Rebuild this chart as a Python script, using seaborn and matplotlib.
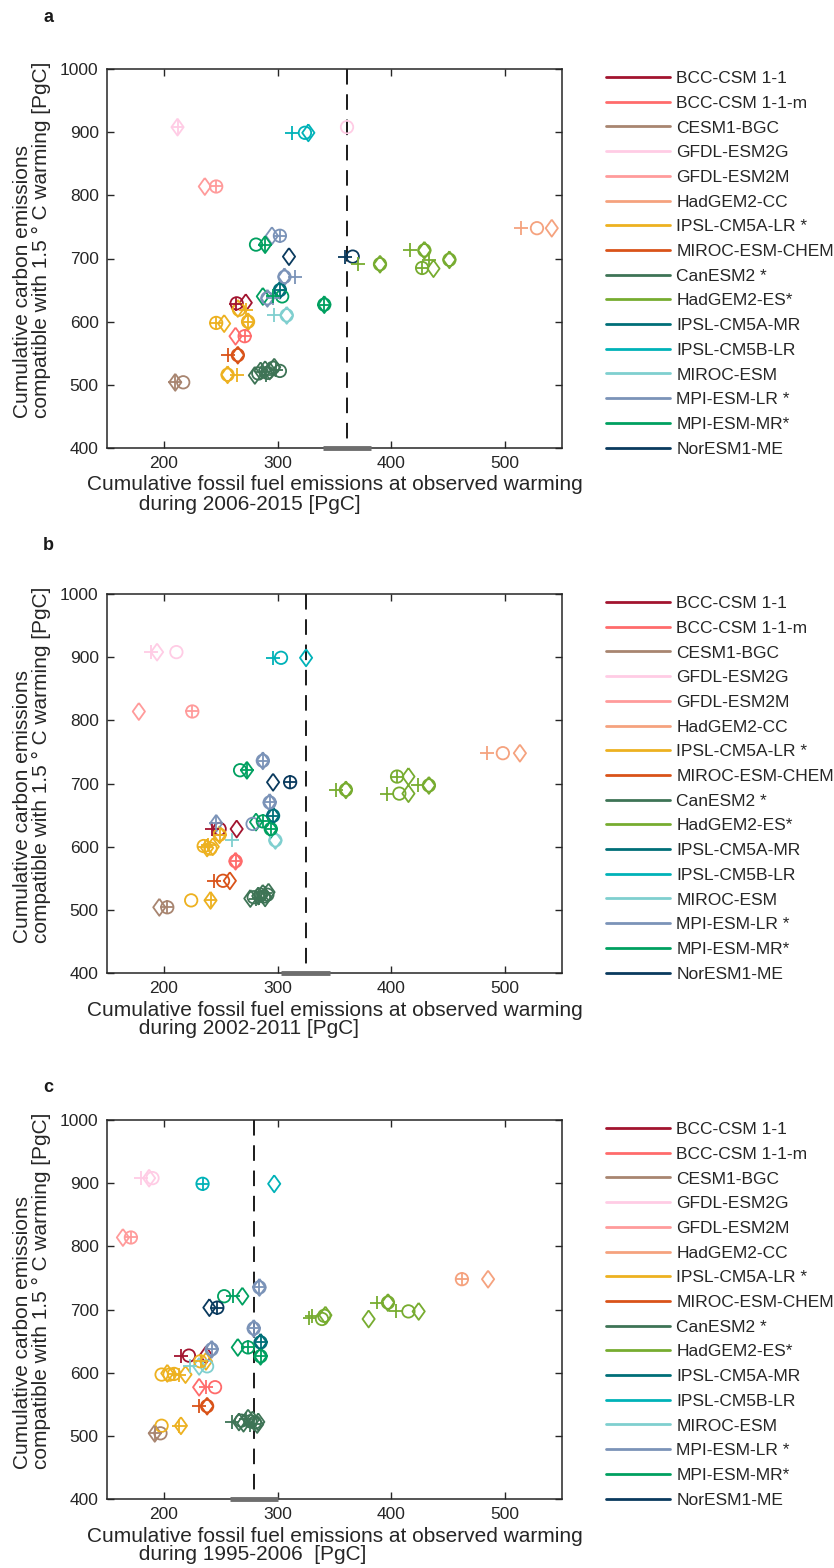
import numpy as np
import pandas as pd
import seaborn as sns
import matplotlib.pyplot as plt
from matplotlib.lines import Line2D

models = ["BCC-CSM 1-1", "BCC-CSM 1-1-m", "CESM1-BGC", "GFDL-ESM2G", "GFDL-ESM2M",
          "HadGEM2-CC", "IPSL-CM5A-LR *", "MIROC-ESM-CHEM", "CanESM2 *", "HadGEM2-ES*",
          "IPSL-CM5A-MR", "IPSL-CM5B-LR", "MIROC-ESM", "MPI-ESM-LR *", "MPI-ESM-MR*",
          "NorESM1-ME"]
colors = ["#A2142F", "#FF6B6B", "#A88570", "#FFCCE5", "#FF9B9B",
          "#F5A27E", "#EDB120", "#D95319", "#3E7456", "#77AC30",
          "#006F78", "#00B2B8", "#7FCFCF", "#7B93B8", "#00A060",
          "#0A3A5E"]

# observation period, dashed observed value and grey range on the x axis
periods = ["2006-2015 [PgC]", "2002-2011 [PgC]", "1995-2006  [PgC]"]
obs_x = [361, 325, 279]
obs_range = [(340, 382), (303, 346), (258, 300)]

# (model index, marker, cumulative FF emissions, compatible emissions)
pts_a = [
    (0, "+", 263, 628), (0, "o", 264, 629), (0, "d", 272, 630),
    (1, "d", 263, 577), (1, "+", 271, 577), (1, "o", 271, 577),
    (2, "+", 210, 504), (2, "d", 210, 504), (2, "o", 217, 504),
    (3, "+", 212, 908), (3, "d", 212, 908), (3, "o", 361, 908),
    (4, "d", 236, 814), (4, "+", 246, 814), (4, "o", 246, 814),
    (5, "+", 514, 748), (5, "o", 528, 748), (5, "d", 541, 748),
    (6, "+", 246, 598), (6, "o", 246, 598), (6, "d", 253, 597),
    (6, "d", 265, 621), (6, "o", 266, 619), (6, "+", 272, 619),
    (6, "+", 274, 600), (6, "o", 274, 600), (6, "d", 274, 600),
    (6, "d", 256, 516), (6, "o", 256, 516), (6, "+", 264, 516),
    (7, "+", 256, 547), (7, "o", 265, 547), (7, "d", 265, 547),
    (8, "d", 280, 515), (8, "o", 283, 518), (8, "+", 286, 520),
    (8, "d", 285, 522), (8, "d", 289, 524), (8, "o", 291, 519),
    (8, "+", 290, 516), (8, "d", 293, 522), (8, "o", 296, 527),
    (8, "d", 297, 528), (8, "+", 299, 524), (8, "o", 302, 522),
    (9, "+", 371, 691), (9, "d", 390, 691), (9, "o", 390, 691),
    (9, "+", 416, 713), (9, "d", 429, 713), (9, "o", 429, 713),
    (9, "+", 427, 685), (9, "o", 427, 685), (9, "d", 437, 684),
    (9, "+", 433, 698), (9, "d", 451, 698), (9, "o", 451, 698),
    (10, "+", 302, 650), (10, "o", 302, 650), (10, "d", 302, 650),
    (11, "+", 313, 899), (11, "o", 324, 899), (11, "d", 327, 899),
    (12, "+", 297, 610), (12, "o", 308, 610), (12, "d", 308, 610),
    (13, "d", 295, 736), (13, "+", 302, 736), (13, "o", 302, 736),
    (13, "d", 306, 671), (13, "o", 306, 671), (13, "+", 315, 671),
    (13, "d", 291, 637), (13, "o", 291, 637), (13, "+", 296, 638),
    (14, "o", 281, 722), (14, "+", 289, 722), (14, "d", 289, 722),
    (14, "d", 287, 640), (14, "+", 296, 640), (14, "o", 304, 640),
    (14, "+", 341, 627), (14, "o", 341, 627), (14, "d", 341, 627),
    (15, "d", 310, 703), (15, "+", 359, 703), (15, "o", 366, 703),
]

pts_b = [
    (0, "+", 242, 628), (0, "o", 249, 628), (0, "d", 264, 628),
    (1, "+", 263, 577), (1, "o", 263, 577), (1, "d", 263, 577),
    (2, "d", 196, 504), (2, "+", 203, 504), (2, "o", 203, 504),
    (3, "+", 189, 908), (3, "d", 194, 908), (3, "o", 211, 908),
    (4, "d", 178, 814), (4, "+", 225, 814), (4, "o", 225, 814),
    (5, "+", 484, 748), (5, "o", 498, 748), (5, "d", 513, 748),
    (6, "+", 249, 619), (6, "o", 249, 619), (6, "d", 249, 619),
    (6, "o", 235, 601), (6, "+", 236, 600), (6, "d", 238, 598),
    (6, "o", 241, 597), (6, "d", 243, 600), (6, "+", 239, 603),
    (6, "o", 224, 515), (6, "+", 241, 515), (6, "d", 241, 515),
    (7, "+", 244, 546), (7, "o", 252, 546), (7, "d", 258, 546),
    (8, "d", 276, 518), (8, "o", 279, 520), (8, "+", 281, 517),
    (8, "d", 283, 522), (8, "o", 285, 524), (8, "d", 287, 526),
    (8, "+", 289, 527), (8, "o", 291, 524), (8, "d", 289, 519),
    (8, "+", 284, 519), (8, "o", 288, 521), (8, "d", 292, 528),
    (9, "+", 351, 690), (9, "d", 360, 690), (9, "o", 360, 690),
    (9, "+", 405, 711), (9, "o", 405, 711), (9, "d", 415, 711),
    (9, "+", 396, 684), (9, "o", 407, 684), (9, "d", 415, 684),
    (9, "+", 423, 697), (9, "d", 433, 697), (9, "o", 433, 697),
    (10, "+", 296, 649), (10, "o", 296, 649), (10, "d", 296, 649),
    (11, "+", 296, 899), (11, "o", 303, 899), (11, "d", 325, 899),
    (12, "+", 260, 610), (12, "o", 298, 610), (12, "d", 298, 610),
    (13, "+", 287, 736), (13, "o", 287, 736), (13, "d", 287, 736),
    (13, "+", 293, 670), (13, "o", 293, 670), (13, "d", 293, 670),
    (13, "d", 246, 637), (13, "+", 246, 637), (13, "o", 278, 636),
    (14, "o", 267, 721), (14, "+", 273, 721), (14, "d", 273, 721),
    (14, "d", 281, 639), (14, "+", 287, 640), (14, "o", 287, 640),
    (14, "+", 294, 628), (14, "o", 294, 628), (14, "d", 294, 628),
    (15, "d", 296, 702), (15, "+", 311, 702), (15, "o", 311, 702),
]

pts_c = [
    (0, "+", 215, 627), (0, "o", 222, 627), (0, "d", 237, 628),
    (1, "d", 231, 577), (1, "+", 237, 577), (1, "o", 245, 577),
    (2, "+", 192, 504), (2, "d", 192, 504), (2, "o", 197, 504),
    (3, "+", 180, 908), (3, "d", 187, 908), (3, "o", 190, 908),
    (4, "d", 164, 814), (4, "+", 171, 814), (4, "o", 171, 814),
    (5, "+", 462, 748), (5, "o", 462, 748), (5, "d", 485, 748),
    (6, "o", 232, 618), (6, "+", 233, 619), (6, "d", 237, 618),
    (6, "o", 198, 597), (6, "d", 203, 599), (6, "o", 205, 597),
    (6, "+", 209, 598), (6, "o", 209, 598), (6, "+", 213, 597),
    (6, "d", 219, 597),
    (6, "o", 198, 516), (6, "+", 213, 516), (6, "d", 215, 516),
    (7, "+", 231, 547), (7, "o", 238, 547), (7, "d", 238, 547),
    (8, "+", 260, 522), (8, "d", 266, 522), (8, "o", 268, 524),
    (8, "d", 270, 520), (8, "+", 272, 526), (8, "d", 274, 528),
    (8, "o", 276, 523), (8, "d", 278, 525), (8, "+", 279, 519),
    (8, "o", 280, 521), (8, "d", 282, 518), (8, "+", 276, 517),
    (8, "d", 283, 522),
    (9, "+", 328, 686), (9, "+", 330, 690), (9, "o", 339, 685),
    (9, "o", 341, 690), (9, "d", 342, 691),
    (9, "+", 387, 711), (9, "d", 397, 711), (9, "o", 397, 711),
    (9, "d", 380, 685),
    (9, "+", 404, 697), (9, "o", 415, 697), (9, "d", 424, 697),
    (10, "+", 285, 648), (10, "o", 285, 648), (10, "d", 285, 648),
    (11, "+", 234, 899), (11, "o", 234, 899), (11, "d", 297, 899),
    (12, "+", 223, 610), (12, "d", 231, 610), (12, "o", 238, 610),
    (13, "+", 284, 735), (13, "o", 284, 735), (13, "d", 284, 735),
    (13, "+", 279, 670), (13, "o", 279, 670), (13, "d", 279, 670),
    (13, "+", 242, 637), (13, "o", 242, 637), (13, "d", 242, 637),
    (14, "o", 253, 721), (14, "+", 261, 721), (14, "d", 269, 721),
    (14, "d", 265, 640), (14, "+", 274, 640), (14, "o", 274, 640),
    (14, "+", 285, 626), (14, "o", 285, 626), (14, "d", 285, 626),
    (15, "d", 240, 703), (15, "+", 247, 703), (15, "o", 247, 703),
]

sns.set_theme(style="ticks")
plt.rcParams["font.family"] = ["Liberation Sans", "DejaVu Sans"]
ink = "#262626"

pal = dict(zip(models, colors))
diamond = np.array([(0, 1), (0.72, 0), (0, -1), (-0.72, 0), (0, 1)])
marker_style = {"d": (diamond, 150), "o": ("o", 80), "+": ("+", 100)}

W, H = 834, 1568
fig = plt.figure(figsize=(W / 100, H / 100), dpi=100)
tops = [69, 594, 1120]
letter_y = [18, 545, 1087]

for i, pts in enumerate([pts_a, pts_b, pts_c]):
    top = tops[i]
    ax = fig.add_axes([107 / W, 1 - (top + 379) / H, 455 / W, 379 / H])

    df = pd.DataFrame(pts, columns=["m", "kind", "x", "y"])
    df["model"] = [models[k] for k in df["m"]]
    for kind in ["d", "o", "+"]:
        sub = df[df["kind"] == kind]
        mk, s = marker_style[kind]
        sns.scatterplot(data=sub, x="x", y="y", hue="model", palette=pal,
                        marker=mk, s=s, linewidth=1.3, legend=False, ax=ax, zorder=3)
        coll = ax.collections[-1]
        cols = coll.get_facecolors()
        coll.set_edgecolors(cols)
        if kind != "+":
            coll.set_facecolors("none")

    # dashed observed value, drawn from the top so a dash meets the upper spine
    ax.plot([obs_x[i], obs_x[i]], [1000, 400], color="k", lw=1.4, dashes=(8, 5), zorder=2)
    ax.plot(obs_range[i], [400, 400], color="#6e6e6e", lw=3.5,
            solid_capstyle="butt", clip_on=False, zorder=6)

    ax.set_xlim(150, 550)
    ax.set_ylim(400, 1000)
    ax.set_xticks([200, 300, 400, 500])
    ax.set_yticks(range(400, 1001, 100))
    ax.tick_params(direction="in", top=True, right=True, length=5, width=1,
                   labelsize=12.5, labelcolor=ink, color=ink, pad=6)
    for sp in ax.spines.values():
        sp.set_linewidth(1.1)
        sp.set_color(ink)

    ax.set_xlabel("Cumulative fossil fuel emissions at observed warming\n"
                  + " " * 9 + "during " + periods[i],
                  fontsize=15, color=ink, multialignment="left",
                  linespacing=1.0, labelpad=3)
    ax.set_ylabel("Cumulative carbon emissions\ncompatible with 1.5 ° C warming [PgC]",
                  fontsize=15, color=ink, multialignment="left", linespacing=1.0)
    ax.yaxis.set_label_coords(-0.123, 0.549)

    handles = [Line2D([], [], color=c, lw=2) for c in colors]
    ax.legend(handles, models, loc="upper left",
              bbox_to_anchor=(606 / W, 1 - (top + 2) / H), bbox_transform=fig.transFigure,
              frameon=False, fontsize=12.5, handlelength=3.7, handletextpad=0.35,
              labelspacing=0.55, borderpad=0, borderaxespad=0)

    fig.text(48 / W, 1 - letter_y[i] / H, "abc"[i], fontsize=13, fontweight="bold",
             ha="center", va="center", color="k")

fig.savefig("out.png", dpi=100, facecolor="white")
